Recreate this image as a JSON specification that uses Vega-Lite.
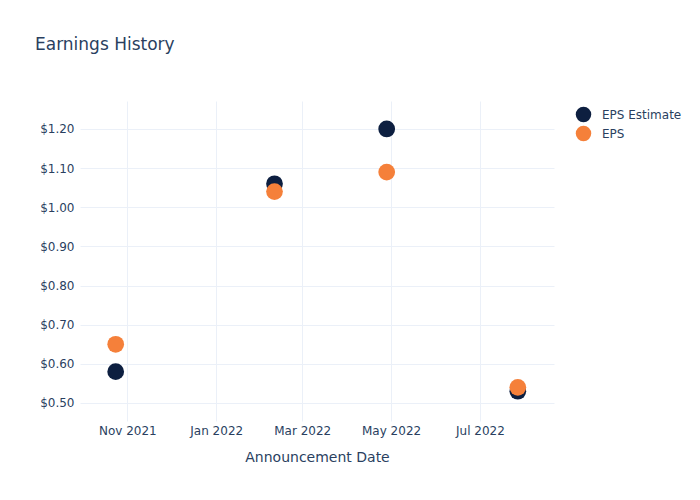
{
  "$schema": "https://vega.github.io/schema/vega-lite/v6.json",
  "width": 474,
  "height": 320,
  "autosize": {"type": "none"},
  "padding": {"left": 80, "top": 101, "right": 146, "bottom": 79},
  "background": "white",
  "config": {
    "font": "DejaVu Sans",
    "view": {"stroke": null},
    "axis": {
      "domain": false,
      "ticks": false,
      "gridColor": "#ebf0f8",
      "gridWidth": 1,
      "labelColor": "#2a3f5f",
      "labelFontSize": 12,
      "titleColor": "#2a3f5f",
      "titleFontWeight": "normal",
      "titleFontSize": 14
    }
  },
  "title": {
    "text": "Earnings History",
    "anchor": "start",
    "frame": "group",
    "fontSize": 17,
    "fontWeight": "normal",
    "color": "#2a3f5f",
    "dx": -45,
    "offset": 47
  },
  "data": {
    "values": [
      {"date": "2021-10-24", "series": "EPS Estimate", "value": 0.58},
      {"date": "2022-02-10", "series": "EPS Estimate", "value": 1.06},
      {"date": "2022-04-28", "series": "EPS Estimate", "value": 1.20},
      {"date": "2022-07-27", "series": "EPS Estimate", "value": 0.53},
      {"date": "2021-10-24", "series": "EPS", "value": 0.65},
      {"date": "2022-02-10", "series": "EPS", "value": 1.04},
      {"date": "2022-04-28", "series": "EPS", "value": 1.09},
      {"date": "2022-07-27", "series": "EPS", "value": 0.54}
    ]
  },
  "mark": {"type": "point", "filled": true, "opacity": 1, "size": 280},
  "encoding": {
    "x": {
      "field": "date",
      "type": "temporal",
      "title": "Announcement Date",
      "scale": {"domain": [{"year": 2021, "month": 9, "date": 29, "hours": 12}, {"year": 2022, "month": 8, "date": 20, "hours": 20}]},
      "axis": {
        "values": [
          {"year": 2021, "month": 11, "date": 1},
          {"year": 2022, "month": 1, "date": 1},
          {"year": 2022, "month": 3, "date": 1},
          {"year": 2022, "month": 5, "date": 1},
          {"year": 2022, "month": 7, "date": 1}
        ],
        "format": "%b %Y",
        "labelPadding": 4,
        "titlePadding": 14
      }
    },
    "y": {
      "field": "value",
      "type": "quantitative",
      "title": null,
      "scale": {"domain": [0.454, 1.2715], "zero": false, "nice": false},
      "axis": {
        "values": [0.5, 0.6, 0.7, 0.8, 0.9, 1.0, 1.1, 1.2],
        "format": "$.2f",
        "labelPadding": 6
      }
    },
    "color": {
      "field": "series",
      "type": "nominal",
      "scale": {"domain": ["EPS Estimate", "EPS"], "range": ["#0d1f40", "#f5803a"]},
      "legend": {
        "title": null,
        "orient": "none",
        "legendX": 495,
        "legendY": 5,
        "symbolType": "circle",
        "symbolSize": 240,
        "symbolOpacity": 1,
        "labelFontSize": 12,
        "labelColor": "#2a3f5f",
        "labelOffset": 10,
        "rowPadding": 2
      }
    }
  }
}
